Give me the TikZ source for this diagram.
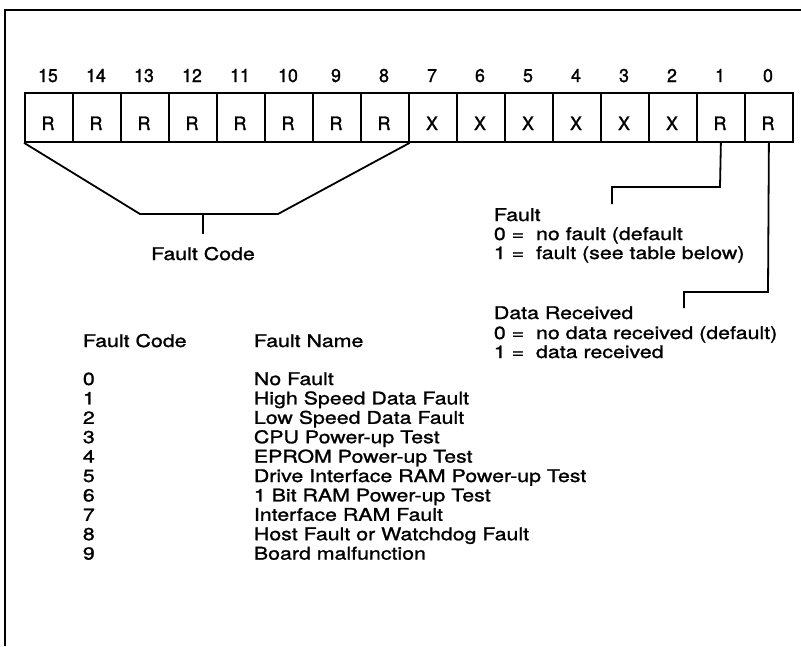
\documentclass[tikz,border=0pt]{standalone}
\usepackage{fontspec}
\setmainfont{TeX Gyre Heros}[FakeStretch=1.22,FakeBold=1.3]
\newfontfamily\numfont{TeX Gyre Heros}[FakeStretch=0.96,FakeBold=1.4]
\begin{document}
\begin{tikzpicture}[x=1pt,y=-1pt,line width=1.8pt,
  cell/.style={draw,minimum width=48pt,minimum height=49pt,inner sep=0pt,anchor=north west},
  num/.style={font=\numfont\fontsize{18.5}{20}\selectfont,inner sep=0pt,anchor=base},
  lbl/.style={font=\fontsize{17.5}{20}\selectfont,inner sep=0pt,anchor=base},
  txt/.style={font=\fontsize{17.5}{20}\selectfont,inner sep=0pt,anchor=base west},
  wire/.style={line width=1.8pt}]
\useasboundingbox (0,0) rectangle (801,646);
\coordinate (fbl) at (5,646);
\coordinate (ftl) at (5,10);
\coordinate (ftr) at (801,10);
\draw[wire] (fbl) -- (ftl) -- (ftr);
\foreach \b/\t [count=\k from 0] in {15/R,14/R,13/R,12/R,11/R,10/R,9/R,8/R,7/X,6/X,5/X,4/X,3/X,2/X,1/R,0/R}{
  \node[cell] (b\b) at (24+48*\k,92) {};
  \node[num] (t\b) at (48+48*\k,130) {\t};
  \node[num] (n\b) at (48+48*\k,82) {\b};
}
% fault code bracket
\coordinate (tl) at (140,214);
\coordinate (tr) at (278,214);
\coordinate (stem) at (203,214);
\coordinate (stemend) at (203,234);
\draw[wire] (b15.south west) -- (tl) -- (tr) -- (b8.south east);
\draw[wire] (stem) -- (stemend);
\node[lbl] (fc) at (203,260) {Fault Code};
% fault bit
\coordinate (f1) at (720,187);
\coordinate (f2) at (612,187);
\coordinate (f3) at (612,204);
\draw[wire] (b1.south) -- (f1) -- (f2) -- (f3);
\node[txt] (fa) at (493,221) {Fault};
\node[txt] (fb) at (493,240) {0 = \ no fault (default};
\node[txt] (fcc) at (493,259) {1 = \ fault (see table below)};
% data received bit
\coordinate (d1) at (768,292);
\coordinate (d2) at (684,292);
\coordinate (d3) at (684,308);
\draw[wire] (b0.south) -- (d1) -- (d2) -- (d3);
\node[txt] (da) at (493,319) {Data Received};
\node[txt] (db) at (493,339) {0 = \ no data received (default)};
\node[txt] (dc) at (493,358) {1 = \ data received};
% table
\node[txt] (h1) at (82,347) {Fault Code};
\node[txt] (h2) at (253,347) {Fault Name};
\foreach \c/\n [count=\r from 0] in {0/No Fault,1/High Speed Data Fault,2/Low Speed Data Fault,3/CPU Power-up Test,4/EPROM Power-up Test,5/Drive Interface RAM Power-up Test,6/1 Bit RAM Power-up Test,7/Interface RAM Fault,8/Host Fault or Watchdog Fault,9/Board malfunction}{
  \node[txt] (c\c) at (82,385+19.4*\r) {\c};
  \node[txt] (m\c) at (253,385+19.4*\r) {\n};
}
\end{tikzpicture}
\end{document}
